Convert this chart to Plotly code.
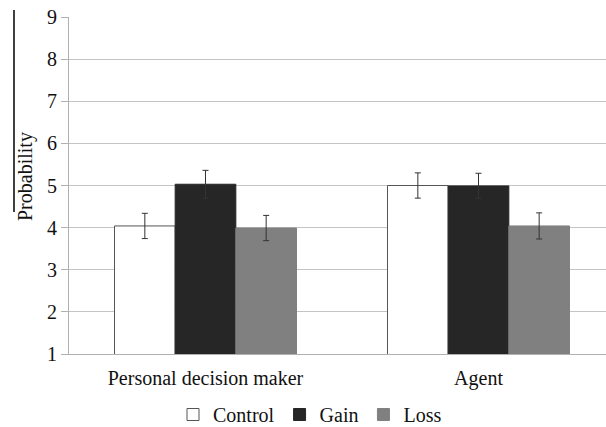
import plotly.graph_objects as go

categories = ["Personal decision maker", "Agent"]
series_names = ["Control", "Gain", "Loss"]
control = [4.04, 5.00]
gain = [5.03, 4.99]
loss = [3.99, 4.04]
control_err = [0.30, 0.30]
gain_err = [0.33, 0.30]
loss_err = [0.30, 0.31]
y_ticks = [1, 2, 3, 4, 5, 6, 7, 8, 9]

W, H = 606, 427
L, R, T, B = 69, 0, 17, 73
pw, ph = W - L - R, H - T - B

FAM = "Liberation Serif"


def f(size=20):
    return dict(family=FAM, size=size, color="#111111")


err_style = dict(type="data", thickness=1, width=3, color="#333333")

fig = go.Figure()
fills = ["#ffffff", "#262626", "#808080"]
lines = ["#555555", "#262626", "#808080"]
for name, vals, errs, fc, lc in zip(series_names, [control, gain, loss],
                                    [control_err, gain_err, loss_err], fills, lines):
    fig.add_trace(go.Bar(
        x=categories, y=vals, name=name,
        marker=dict(color=fc, line=dict(color=lc, width=1)),
        error_y=dict(array=errs, **err_style),
    ))

fig.update_layout(
    width=W, height=H,
    margin=dict(l=L, r=R, t=T, b=B, autoexpand=False),
    paper_bgcolor="white", plot_bgcolor="white",
    font=f(),
    barmode="group", bargap=1/3, bargroupgap=0,
    showlegend=True,
    legend=dict(orientation="h", x=(310 - L) / pw, xanchor="center",
                y=-(414.5 - 354) / ph, yanchor="middle",
                font=f(), tracegroupgap=0),
    xaxis=dict(range=[-0.5, -0.5 + pw / 273], showgrid=False, showline=True,
               linecolor="#b0b0b0", linewidth=1, ticks="outside", ticklen=6,
               tickcolor="rgba(0,0,0,0)", tickfont=f()),
    yaxis=dict(range=[1, 9], tickvals=y_ticks, showgrid=True, gridcolor="#c4c4c4",
               gridwidth=1, showline=True, linecolor="#b0b0b0", linewidth=1,
               ticks="outside", ticklen=7, tickcolor="#b0b0b0", tickfont=f(),
               zeroline=False),
    annotations=[dict(text="Probability", xref="paper", yref="paper",
                      x=(25 - L) / pw, y=(354 - 177) / ph, textangle=-90,
                      showarrow=False, font=f(), xanchor="center", yanchor="middle")],
    shapes=[dict(type="line", xref="paper", yref="paper",
                 x0=(14 - L) / pw, x1=(14 - L) / pw,
                 y0=(354 - 10) / ph, y1=(354 - 212) / ph,
                 line=dict(color="black", width=1.5))],
)

fig.write_html("out.html", config={"displayModeBar": False},
               post_script="document.body.style.margin='0';document.body.style.overflow='hidden';")
